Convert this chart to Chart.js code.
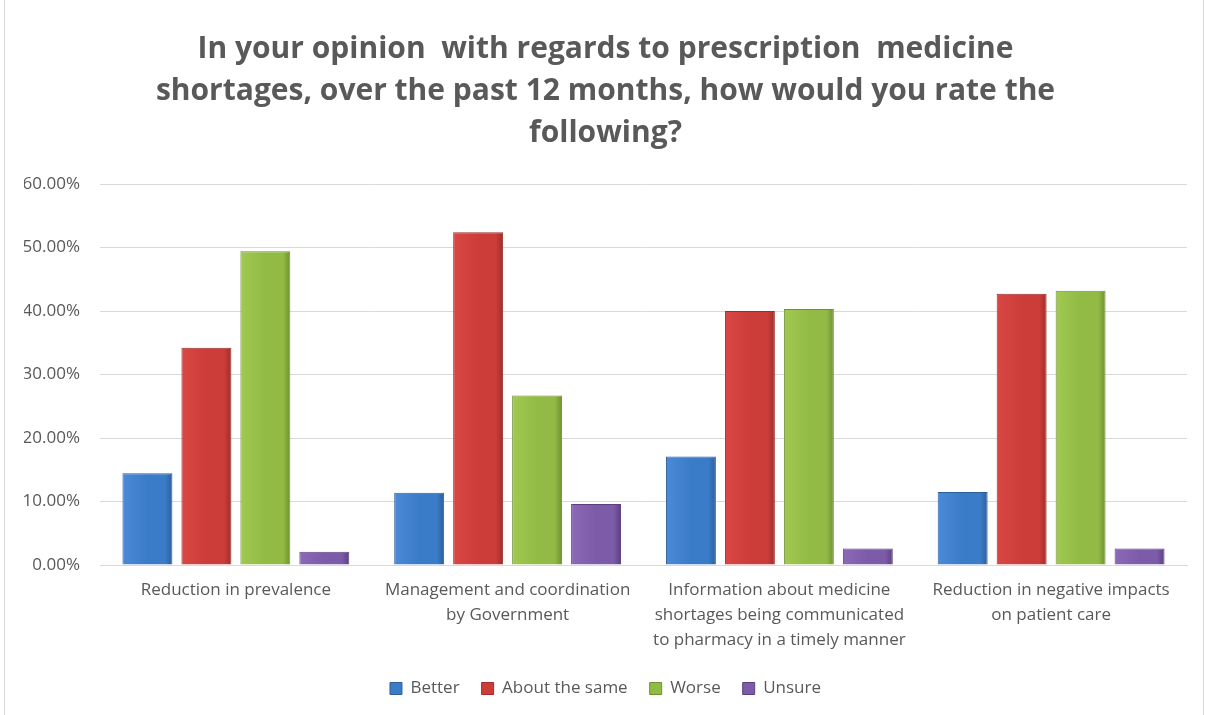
<!DOCTYPE html>
<html>
<head>
<meta charset="utf-8">
<script src="https://cdn.jsdelivr.net/npm/chart.js@4/dist/chart.umd.min.js"></script>
<style>
  html, body { margin: 0; padding: 0; background: #ffffff; }
  #frame { position: absolute; left: 4px; top: 0; width: 1200px; height: 715px; box-sizing: border-box; border-left: 1px solid #d9d9d9; border-right: 1px solid #d9d9d9; }
  #c { position: absolute; left: 0; top: 0; display: block; }
</style>
</head>
<body>
<div id="frame"></div>
<canvas id="c" width="1205" height="715"></canvas>
<script>
const titleLines = [
  "In your opinion  with regards to prescription  medicine",
  "shortages, over the past 12 months, how would you rate the",
  "following?"
];
const categories = [
  "Reduction in prevalence",
  ["Management and coordination", "by Government"],
  ["Information about medicine", "shortages being communicated", "to pharmacy in a timely manner"],
  ["Reduction in negative impacts", "on patient care"]
];
const seriesNames = ["Better", "About the same", "Worse", "Unsure"];
const better = [14.45, 11.4, 17.1, 11.5];
const aboutSame = [34.2, 52.4, 40.0, 42.7];
const worse = [49.4, 26.7, 40.3, 43.2];
const unsure = [2.1, 9.6, 2.6, 2.6];
const yTicks = [0, 10, 20, 30, 40, 50, 60];

const baseColors = ["#3b7cc8", "#cc3d39", "#92bb45", "#7c5ba8"];
const darkColors = ["#2d5f9a", "#9e2d2b", "#6f9130", "#5b4080"];
const lightColors = ["#4a8ad6", "#d94744", "#a0c952", "#8c69b8"];

function barFill(i) {
  return function(ctx) {
    const el = ctx.element;
    const chart = ctx.chart;
    if (!el || !chart.ctx) return baseColors[i];
    const x = el.x, w = el.width;
    if (typeof x !== 'number' || typeof w !== 'number' || !isFinite(x) || !isFinite(w) || w <= 0) return baseColors[i];
    const g = chart.ctx.createLinearGradient(x - w / 2, 0, x + w / 2, 0);
    g.addColorStop(0, lightColors[i]);
    g.addColorStop(0.5, baseColors[i]);
    g.addColorStop(0.85, baseColors[i]);
    g.addColorStop(1, darkColors[i]);
    return g;
  };
}

const seriesValues = [better, aboutSame, worse, unsure];
const datasets = seriesNames.map((name, i) => ({
  label: name,
  data: seriesValues[i],
  backgroundColor: barFill(i),
  borderColor: darkColors[i],
  borderWidth: 1,
  categoryPercentage: 0.868,
  barPercentage: 0.847
}));

const font = "'Open Sans', 'DejaVu Sans', sans-serif";
const grey = "#595959";

const chart = new Chart(document.getElementById('c'), {
  type: 'bar',
  data: { labels: categories, datasets: datasets },
  options: {
    responsive: false,
    animation: false,
    layout: { padding: { left: 24, right: 18, top: 28, bottom: 8 } },
    plugins: {
      title: {
        display: true,
        text: titleLines,
        color: grey,
        font: { family: font, size: 30, weight: 'bold', lineHeight: 1.4 },
        padding: { top: 0, bottom: 30 }
      },
      legend: {
        position: 'bottom',
        labels: {
          color: grey,
          font: { family: font, size: 17 },
          boxWidth: 12,
          boxHeight: 12,
          padding: 22,
          generateLabels: function(chart) {
            return seriesNames.map((n, i) => ({
              text: n,
              fillStyle: baseColors[i],
              strokeStyle: darkColors[i],
              lineWidth: 1,
              datasetIndex: i,
              fontColor: grey
            }));
          }
        }
      },
      tooltip: { enabled: false }
    },
    scales: {
      x: {
        grid: { display: false },
        border: { display: true, color: '#d9d9d9' },
        ticks: {
          color: grey,
          font: { family: font, size: 17, lineHeight: 1.47 },
          maxRotation: 0,
          autoSkip: false,
          padding: 5
        }
      },
      y: {
        min: 0,
        max: 60,
        afterBuildTicks: function(axis) { axis.ticks = yTicks.map(v => ({ value: v })); },
        afterFit: function(axis) { axis.width = 76; },
        grid: { color: '#d9d9d9', drawTicks: false },
        border: { display: false },
        ticks: {
          color: grey,
          font: { family: font, size: 17 },
          padding: 20,
          callback: function(v) { return v.toFixed(2) + '%'; }
        }
      }
    }
  }
});
chart.update();
</script>
</body>
</html>
